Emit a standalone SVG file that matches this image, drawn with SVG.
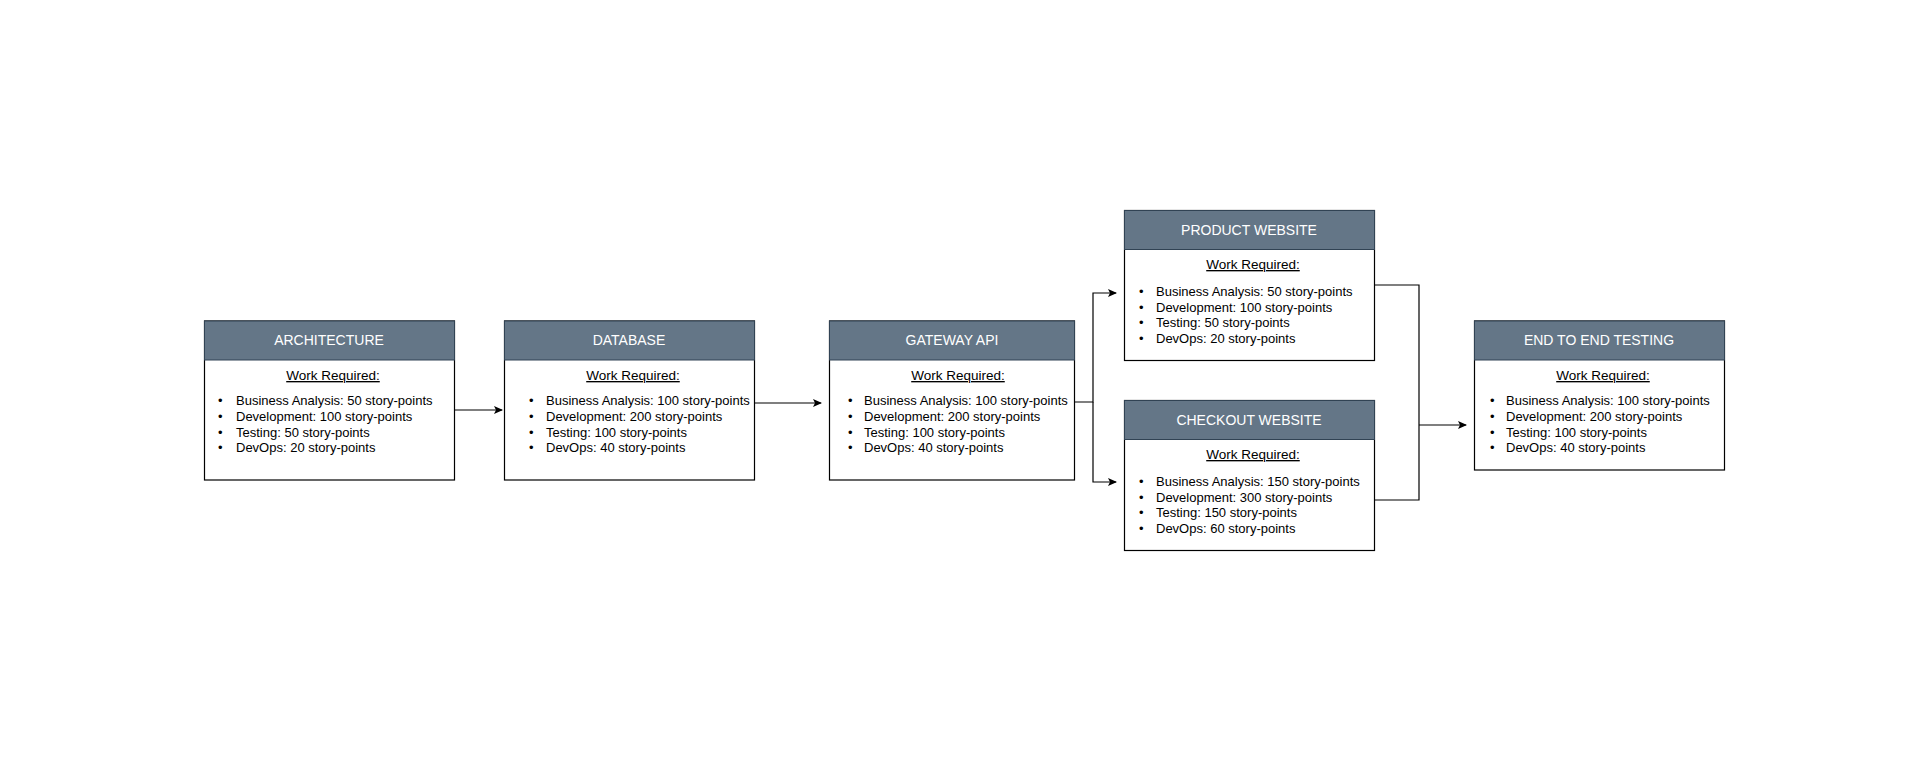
<svg xmlns="http://www.w3.org/2000/svg" width="1920" height="780" viewBox="0 0 1920 780">
<style>
.box{fill:#fff;stroke:#000;stroke-width:1.2}
.hd{fill:#647687;stroke:#314354;stroke-width:1}
.t{font-family:"Liberation Sans",Arial,sans-serif;font-size:14px;fill:#fff;text-anchor:middle}
.w{font-family:"Liberation Sans",Arial,sans-serif;font-size:13.5px;fill:#000;text-anchor:middle;text-decoration:underline}
.b{font-family:"Liberation Sans",Arial,sans-serif;font-size:13px;fill:#000}
.c{fill:none;stroke:#000;stroke-width:1.2}
</style>
<defs><marker id="a" markerWidth="10" markerHeight="10" refX="8" refY="4" orient="auto" markerUnits="userSpaceOnUse"><path d="M0,0 L9,4 L0,8 L2,4 Z" fill="#000"/></marker></defs>
<rect width="1920" height="780" fill="#fff"/>
<g id="connectors">
<path class="c" d="M454,410 H502" marker-end="url(#a)"/>
<path class="c" d="M754,403 H821" marker-end="url(#a)"/>
<path class="c" d="M1074,402 H1093 V293 H1116" marker-end="url(#a)"/>
<path class="c" d="M1093,402 V482 H1116" marker-end="url(#a)"/>
<path class="c" d="M1374,285 H1419 V500 H1374"/>
<path class="c" d="M1419,425 H1466" marker-end="url(#a)"/>
</g>
<g id="architecture">
<rect class="box" x="204.5" y="321" width="250" height="159"/>
<rect class="hd" x="204.5" y="321" width="250" height="39"/>
<text class="t" x="329" y="345">ARCHITECTURE</text>
<text class="w" x="333" y="380">Work Required:</text>
<g class="b"><text x="218" y="405">•</text><text x="236" y="405">Business Analysis: 50 story-points</text>
<text x="218" y="421">•</text><text x="236" y="421">Development: 100 story-points</text>
<text x="218" y="437">•</text><text x="236" y="437">Testing: 50 story-points</text>
<text x="218" y="452">•</text><text x="236" y="452">DevOps: 20 story-points</text></g>
</g>
<g id="database">
<rect class="box" x="504.5" y="321" width="250" height="159"/>
<rect class="hd" x="504.5" y="321" width="250" height="39"/>
<text class="t" x="629" y="345">DATABASE</text>
<text class="w" x="633" y="380">Work Required:</text>
<g class="b"><text x="529" y="405">•</text><text x="546" y="405">Business Analysis: 100 story-points</text>
<text x="529" y="421">•</text><text x="546" y="421">Development: 200 story-points</text>
<text x="529" y="437">•</text><text x="546" y="437">Testing: 100 story-points</text>
<text x="529" y="452">•</text><text x="546" y="452">DevOps: 40 story-points</text></g>
</g>
<g id="gateway">
<rect class="box" x="829.5" y="321" width="245" height="159"/>
<rect class="hd" x="829.5" y="321" width="245" height="39"/>
<text class="t" x="952" y="345">GATEWAY API</text>
<text class="w" x="958" y="380">Work Required:</text>
<g class="b"><text x="848" y="405">•</text><text x="864" y="405">Business Analysis: 100 story-points</text>
<text x="848" y="421">•</text><text x="864" y="421">Development: 200 story-points</text>
<text x="848" y="437">•</text><text x="864" y="437">Testing: 100 story-points</text>
<text x="848" y="452">•</text><text x="864" y="452">DevOps: 40 story-points</text></g>
</g>
<g id="product">
<rect class="box" x="1124.5" y="210.5" width="250" height="150"/>
<rect class="hd" x="1124.5" y="210.5" width="250" height="39"/>
<text class="t" x="1249" y="235">PRODUCT WEBSITE</text>
<text class="w" x="1253" y="269">Work Required:</text>
<g class="b"><text x="1139" y="296">•</text><text x="1156" y="296">Business Analysis: 50 story-points</text>
<text x="1139" y="312">•</text><text x="1156" y="312">Development: 100 story-points</text>
<text x="1139" y="327">•</text><text x="1156" y="327">Testing: 50 story-points</text>
<text x="1139" y="343">•</text><text x="1156" y="343">DevOps: 20 story-points</text></g>
</g>
<g id="checkout">
<rect class="box" x="1124.5" y="400.5" width="250" height="150"/>
<rect class="hd" x="1124.5" y="400.5" width="250" height="39"/>
<text class="t" x="1249" y="425">CHECKOUT WEBSITE</text>
<text class="w" x="1253" y="459">Work Required:</text>
<g class="b"><text x="1139" y="486">•</text><text x="1156" y="486">Business Analysis: 150 story-points</text>
<text x="1139" y="502">•</text><text x="1156" y="502">Development: 300 story-points</text>
<text x="1139" y="517">•</text><text x="1156" y="517">Testing: 150 story-points</text>
<text x="1139" y="533">•</text><text x="1156" y="533">DevOps: 60 story-points</text></g>
</g>
<g id="e2e">
<rect class="box" x="1474.5" y="321" width="250" height="149"/>
<rect class="hd" x="1474.5" y="321" width="250" height="39"/>
<text class="t" x="1599" y="345">END TO END TESTING</text>
<text class="w" x="1603" y="380">Work Required:</text>
<g class="b"><text x="1490" y="405">•</text><text x="1506" y="405">Business Analysis: 100 story-points</text>
<text x="1490" y="421">•</text><text x="1506" y="421">Development: 200 story-points</text>
<text x="1490" y="437">•</text><text x="1506" y="437">Testing: 100 story-points</text>
<text x="1490" y="452">•</text><text x="1506" y="452">DevOps: 40 story-points</text></g>
</g>
</svg>
